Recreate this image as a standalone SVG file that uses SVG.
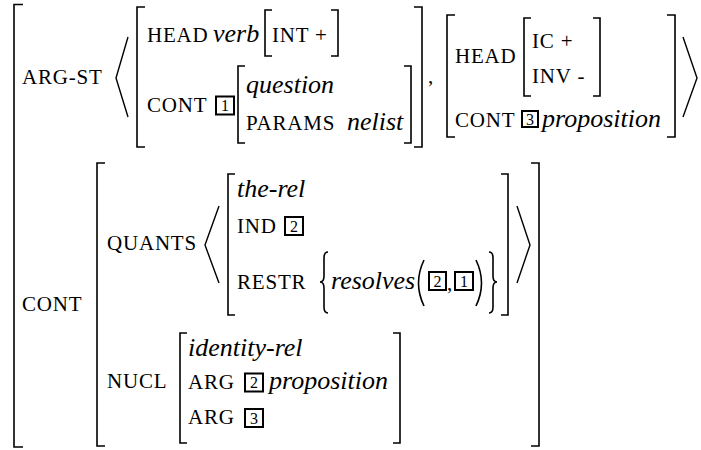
<svg xmlns="http://www.w3.org/2000/svg" width="701" height="450" viewBox="0 0 701 450" font-family="'Times New Roman', Tinos, 'Liberation Serif', serif">
<defs>
<style>
.sc{font-family:'Times New Roman',Tinos,'Liberation Serif',serif;font-size:21px;letter-spacing:0.8px;fill:#000}
.it{font-family:'Times New Roman',Tinos,'Liberation Serif',serif;font-size:26px;font-style:italic;fill:#000}
.br{fill:none;stroke:#000;stroke-width:1.6}
.ang{fill:none;stroke:#000;stroke-width:1.4}
.tag{fill:#fff;stroke:#000;stroke-width:2}
.num{font-family:'Times New Roman',Tinos,'Liberation Serif',serif;font-size:16px;text-anchor:middle;fill:#000}
</style>
</defs>
<rect width="701" height="450" fill="#fff"/>

<g id="outer">
<path class="br" d="M23,4.5H14V447H23"/>
<text class="sc" x="22" y="84">ARG-ST</text>
<text class="sc" x="22" y="311">CONT</text>
</g>

<g id="argst-list">
<polyline class="ang" points="128,37 116,78 128,117"/>
<g id="arg1">
<path class="br" d="M145,7H137V147H145"/>
<path class="br" d="M414,7H422V147H414"/>
<text class="sc" x="147" y="42">HEAD</text>
<text class="it" x="213" y="42">verb</text>
<path class="br" d="M272,10H265V56H272"/>
<text class="sc" x="272" y="42">INT +</text>
<path class="br" d="M331,10H338V56H331"/>
<text class="sc" x="147" y="112">CONT</text>
<rect class="tag" x="216" y="96.5" width="18" height="18"/>
<text class="num" x="225" y="111">1</text>
<path class="br" d="M245,66H238V143H245"/>
<path class="br" d="M404,66H411V143H404"/>
<text class="it" x="246" y="93">question</text>
<text class="sc" x="246" y="130">PARAMS</text>
<text class="it" x="347" y="130">nelist</text>
</g>
<text class="sc" x="428" y="83">,</text>
<g id="arg2">
<path class="br" d="M455,15H447V137H455"/>
<path class="br" d="M667,15H675V137H667"/>
<text class="sc" x="455" y="63">HEAD</text>
<path class="br" d="M531,18H524V96H531"/>
<path class="br" d="M593,18H600V96H593"/>
<text class="sc" x="532" y="48">IC +</text>
<text class="sc" x="532" y="83">INV -</text>
<text class="sc" x="455" y="127">CONT</text>
<rect class="tag" x="522" y="111" width="16" height="16"/>
<text class="num" x="530" y="125">3</text>
<text class="it" x="542" y="127">proposition</text>
</g>
<polyline class="ang" points="683,37 697,78 683,117"/>
</g>

<g id="cont">
<path class="br" d="M105,163H97V446H105"/>
<path class="br" d="M531,163H539V446H531"/>
<text class="sc" x="107" y="250">QUANTS</text>
<polyline class="ang" points="219,206 205,245 219,283"/>
<g id="the-rel">
<path class="br" d="M235,174H228V315H235"/>
<path class="br" d="M501,174H508V315H501"/>
<text class="it" x="237" y="197">the-rel</text>
<text class="sc" x="237" y="233">IND</text>
<rect class="tag" x="285" y="217" width="18" height="18"/>
<text class="num" x="294" y="231.5">2</text>
<text class="sc" x="237" y="289">RESTR</text>
<path class="br" d="M328,252Q324,252 324,258V276Q324,282 320,282Q324,282 324,288V307Q324,313 328,313"/>
<text class="it" x="331" y="289">resolves</text>
<path class="br" d="M424,260Q413,283 424,306"/>
<rect class="tag" x="429" y="272" width="17" height="18"/>
<text class="num" x="437.5" y="286.5">2</text>
<text class="sc" x="447" y="290">,</text>
<rect class="tag" x="455" y="272" width="18" height="18"/>
<text class="num" x="464" y="286.5">1</text>
<path class="br" d="M476,260Q487,283 476,306"/>
<path class="br" d="M489,252Q493,252 493,258V276Q493,282 497,282Q493,282 493,288V307Q493,313 489,313"/>
</g>
<polyline class="ang" points="517,206 530,245 517,283"/>
<text class="sc" x="107" y="388">NUCL</text>
<g id="identity-rel">
<path class="br" d="M187,333H180V443H187"/>
<path class="br" d="M393,333H400V443H393"/>
<text class="it" x="188" y="356">identity-rel</text>
<text class="sc" x="188" y="389">ARG</text>
<rect class="tag" x="245" y="373.5" width="18" height="18"/>
<text class="num" x="254" y="388">2</text>
<text class="it" x="269" y="389">proposition</text>
<text class="sc" x="188" y="424">ARG</text>
<rect class="tag" x="245" y="409" width="18" height="18"/>
<text class="num" x="254" y="423.5">3</text>
</g>
</g>
</svg>
